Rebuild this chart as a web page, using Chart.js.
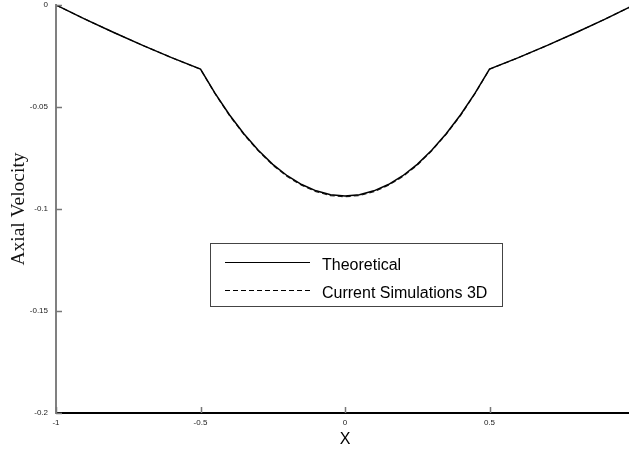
<!DOCTYPE html>
<html>
<head>
<meta charset="utf-8">
<script src="https://cdn.jsdelivr.net/npm/chart.js@4.4.1/dist/chart.umd.min.js"></script>
<style>
html,body{margin:0;padding:0;overflow:hidden;background:#fff;}
#wrap{width:634px;height:451px;position:relative;}
</style>
</head>
<body>
<div id="wrap"><canvas id="c" width="634" height="451"></canvas></div>
<script>
// ---- data ----
const xValues = [-1, -0.9, -0.8, -0.7, -0.6, -0.5, -0.45, -0.4, -0.35, -0.3, -0.25, -0.2, -0.15, -0.1, -0.05, 0,
                 0.05, 0.1, 0.15, 0.2, 0.25, 0.3, 0.35, 0.4, 0.45, 0.5, 0.6, 0.7, 0.8, 0.9, 1];
const theoretical = [0, -0.0069, -0.0135, -0.0198, -0.0258, -0.0314, -0.0432, -0.0538, -0.0631, -0.0712, -0.0781, -0.0837, -0.0880, -0.0911, -0.0930, -0.0936,
                     -0.0930, -0.0911, -0.0880, -0.0837, -0.0781, -0.0712, -0.0631, -0.0538, -0.0432, -0.0314, -0.0258, -0.0198, -0.0135, -0.0069, 0];
const simulation3D = [0, -0.0069, -0.0135, -0.0198, -0.0258, -0.0315, -0.0434, -0.0541, -0.0634, -0.0715, -0.0785, -0.0841, -0.0884, -0.0915, -0.0934, -0.0940,
                      -0.0934, -0.0915, -0.0884, -0.0841, -0.0785, -0.0715, -0.0634, -0.0541, -0.0434, -0.0315, -0.0258, -0.0198, -0.0135, -0.0069, 0];
const xTickValues = [-1, -0.5, 0, 0.5];
const xTickLabels = ["-1", "-0.5", "0", "0.5"];
const yTickValues = [0, -0.05, -0.1, -0.15, -0.2];
const yTickLabels = ["0", "-0.05", "-0.1", "-0.15", "-0.2"];
const seriesNames = ["Theoretical", "Current Simulations 3D"];
const xTitle = "X";
const yTitle = "Axial Velocity";

const toPts = ys => xValues.map((x, i) => ({x: x, y: ys[i]}));

const tickPlugin = {
  id: 'innerTicks',
  afterDraw(chart) {
    const ctx = chart.ctx, a = chart.chartArea;
    const xs = chart.scales.x, ys = chart.scales.y;
    ctx.save();
    ctx.strokeStyle = '#777';
    ctx.lineWidth = 1.5;
    xTickValues.forEach(v => {
      const p = Math.round(xs.getPixelForValue(v)) + 0.5;
      ctx.beginPath(); ctx.moveTo(p, a.bottom); ctx.lineTo(p, a.bottom - 6); ctx.stroke();
    });
    yTickValues.forEach(v => {
      const p = Math.round(ys.getPixelForValue(v)) + 0.5;
      ctx.beginPath(); ctx.moveTo(a.left, p); ctx.lineTo(a.left + 6, p); ctx.stroke();
    });
    // legend
    const bx = 210.5, by = 243.5, bw = 292, bh = 63;
    ctx.fillStyle = '#fff';
    ctx.fillRect(bx, by, bw, bh);
    ctx.strokeStyle = '#444';
    ctx.lineWidth = 1;
    ctx.strokeRect(bx, by, bw, bh);
    ctx.strokeStyle = '#000';
    ctx.lineWidth = 1.2;
    ctx.beginPath(); ctx.moveTo(225, 262.5); ctx.lineTo(310, 262.5); ctx.stroke();
    ctx.setLineDash([5, 3]);
    ctx.beginPath(); ctx.moveTo(225, 290.5); ctx.lineTo(310, 290.5); ctx.stroke();
    ctx.setLineDash([]);
    ctx.fillStyle = '#000';
    ctx.font = '16px "Liberation Sans", Arial, sans-serif';
    ctx.textBaseline = 'middle';
    ctx.textAlign = 'left';
    ctx.fillText(seriesNames[0], 322, 266);
    ctx.fillText(seriesNames[1], 322, 294);
    ctx.restore();
  }
};

new Chart(document.getElementById('c'), {
  type: 'line',
  data: {
    datasets: [
      {label: seriesNames[0], data: toPts(theoretical), borderColor: '#000', borderWidth: 1.5, pointRadius: 0, tension: 0, fill: false},
      {label: seriesNames[1], data: toPts(simulation3D), borderColor: '#222', borderWidth: 1.2, borderDash: [5, 3], pointRadius: 0, tension: 0, fill: false}
    ]
  },
  options: {
    responsive: false,
    animation: false,
    layout: {padding: {top: 5, right: 0, left: 0, bottom: 0}},
    plugins: {legend: {display: false}, tooltip: {enabled: false}},
    scales: {
      x: {
        type: 'linear', min: -1, max: 1,
        afterFit(s) { s.height = 38; s.paddingLeft = 0; s.paddingRight = 0; },
        afterBuildTicks(s) { s.ticks = xTickValues.map(v => ({value: v})); },
        grid: {display: true, drawOnChartArea: false, drawTicks: false},
        border: {display: true, color: '#000', width: 2},
        ticks: {padding: 5, color: '#222', font: {family: 'Liberation Sans', size: 8},
                maxRotation: 0, autoSkip: false,
                callback: (v, i) => xTickLabels[i]},
        title: {display: true, text: xTitle, color: '#000', font: {family: 'Liberation Sans', size: 16}, padding: {top: 0, bottom: 2}}
      },
      y: {
        type: 'linear', min: -0.2, max: 0,
        afterFit(s) { s.width = 56; s.paddingTop = 0; s.paddingBottom = 0; },
        afterBuildTicks(s) { s.ticks = yTickValues.map(v => ({value: v})); },
        grid: {display: true, drawOnChartArea: false, drawTicks: false},
        border: {display: true, color: '#808080', width: 2},
        ticks: {padding: 8, color: '#222', font: {family: 'Liberation Sans', size: 8},
                autoSkip: false, callback: (v, i) => yTickLabels[i]},
        title: {display: true, text: yTitle, color: '#111', font: {family: 'Liberation Serif', size: 19.5}, padding: {top: 7, bottom: 0}}
      }
    }
  },
  plugins: [tickPlugin]
});
</script>
</body>
</html>
